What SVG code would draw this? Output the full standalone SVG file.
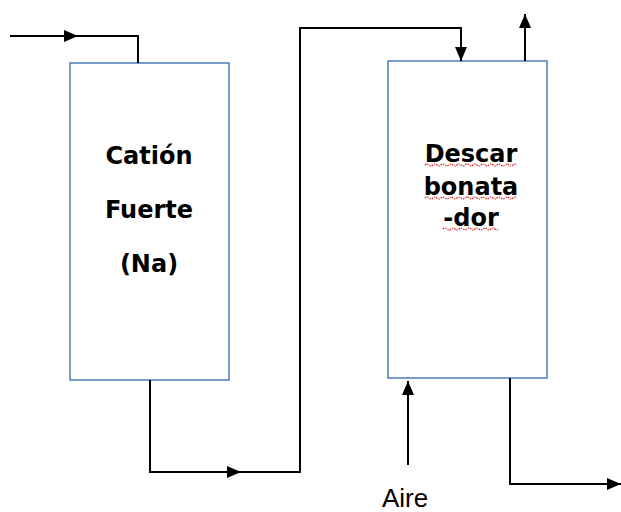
<svg xmlns="http://www.w3.org/2000/svg" width="621" height="512" viewBox="0 0 621 512">
<style>
.box{fill:#fff;stroke:#4a7ebb;stroke-width:1.5}
.ln{fill:none;stroke:#000;stroke-width:2}
.lbl{font-family:"DejaVu Sans",sans-serif;font-weight:bold;font-size:24px;text-anchor:middle;fill:#000}
.aire{font-family:"Liberation Sans",Arial,sans-serif;font-size:26px;fill:#000}
.sq{fill:none;stroke:#e02020;stroke-width:1.2;stroke-dasharray:1.5 1}
</style>
<defs>
<marker id="ah" viewBox="0 0 14 12" refX="14" refY="6" markerWidth="14" markerHeight="12" markerUnits="userSpaceOnUse" orient="auto">
<path d="M0,0 L14,6 L0,12 Z" fill="#000"/>
</marker>
</defs>
<rect width="621" height="512" fill="#fff"/>
<g id="cation">
<rect class="box" x="70" y="63" width="159" height="317"/>
<text class="lbl" x="149" y="164">Catión</text>
<text class="lbl" x="149" y="218">Fuerte</text>
<text class="lbl" x="149" y="272">(Na)</text>
</g>
<g id="descarbonatador">
<rect class="box" x="388" y="61" width="159" height="317"/>
<text class="lbl" x="471" y="162">Descar</text>
<text class="lbl" x="471" y="195">bonata</text>
<text class="lbl" x="471" y="226">-dor</text>
<path class="sq" d="M425,165 q2,-2 4,0 t4,0 t4,0 t4,0 t4,0 t4,0 t4,0 t4,0 t4,0 t4,0 t4,0 t4,0 t4,0 t4,0 t4,0 t4,0 t4,0 t4,0 t4,0 t4,0 t4,0 t4,0 t4,0"/>
<path class="sq" d="M425,198 q2,-2 4,0 t4,0 t4,0 t4,0 t4,0 t4,0 t4,0 t4,0 t4,0 t4,0 t4,0 t4,0 t4,0 t4,0 t4,0 t4,0 t4,0 t4,0 t4,0 t4,0 t4,0 t4,0 t4,0"/>
<path class="sq" d="M443,229 q2,-2 4,0 t4,0 t4,0 t4,0 t4,0 t4,0 t4,0 t4,0 t4,0 t4,0 t4,0 t4,0 t4,0 t4,0"/>
</g>
<g id="aire-label">
<text class="aire" x="382" y="507">Aire</text>
</g>
<g id="connectors">
<path class="ln" d="M10,36 L78,36" marker-end="url(#ah)"/>
<path class="ln" d="M76,36 L138,36 L138,63"/>
<path class="ln" d="M150,380 L150,472 L241,472" marker-end="url(#ah)"/>
<path class="ln" d="M238,472 L300,472 L300,28 L461,28 L461,61" marker-end="url(#ah)"/>
<path class="ln" d="M525,61 L525,14" marker-end="url(#ah)"/>
<path class="ln" d="M408,465 L408,381" marker-end="url(#ah)"/>
<path class="ln" d="M510,378 L510,484 L621,484" marker-end="url(#ah)"/>
</g>
</svg>
